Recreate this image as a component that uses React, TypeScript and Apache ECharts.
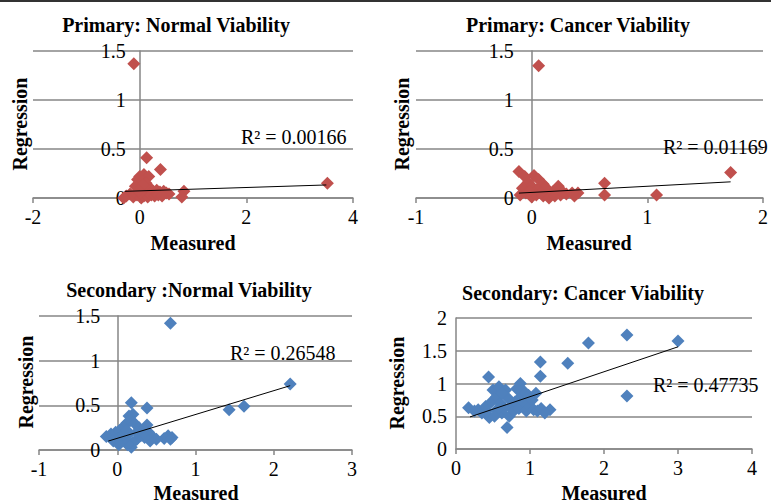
import React, { useEffect, useRef } from "react";
import * as echarts from "echarts";

// ---------- data ----------
const titles = [
  "Primary: Normal Viability",
  "Primary: Cancer Viability",
  "Secondary :Normal Viability",
  "Secondary: Cancer Viability",
];
const r2Labels = ["R\u00B2 = 0.00166", "R\u00B2 = 0.01169", "R\u00B2 = 0.26548", "R\u00B2 = 0.47735"];
const xAxisName = "Measured";
const yAxisName = "Regression";

const primaryNormal: number[][] = [
  [-0.11, 1.37], [0.13, 0.41], [0.39, 0.29], [3.52, 0.15], [0.83, 0.07], [0.79, 0.01],
  [0.0, 0.22], [0.08, 0.24], [0.17, 0.22], [-0.04, 0.19], [0.05, 0.17], [0.12, 0.15],
  [-0.08, 0.12], [0.02, 0.1], [0.1, 0.08], [0.2, 0.1], [0.25, 0.07], [0.32, 0.08],
  [0.38, 0.06], [0.45, 0.07], [0.5, 0.05], [0.55, 0.04], [-0.25, 0.02], [-0.18, 0.04],
  [-0.12, 0.01], [-0.05, 0.03], [0.03, 0.0], [0.08, 0.02], [0.15, 0.01], [0.22, 0.03],
  [0.28, 0.02], [0.35, 0.03], [0.42, 0.02], [-0.3, 0.0], [0.0, 0.05], [0.06, 0.13], [-0.02, 0.08],
];
const primaryCancer: number[][] = [
  [0.06, 1.35], [1.72, 0.26], [0.63, 0.15], [0.63, 0.03], [1.08, 0.03], [-0.11, 0.27],
  [-0.06, 0.22], [0.02, 0.23], [0.06, 0.19], [-0.03, 0.16], [0.1, 0.14], [0.0, 0.12],
  [-0.08, 0.1], [0.05, 0.09], [0.13, 0.08], [0.18, 0.06], [0.23, 0.12], [0.27, 0.06],
  [0.3, 0.04], [0.35, 0.05], [0.4, 0.05], [0.37, 0.02], [-0.1, 0.03], [-0.05, 0.05],
  [0.0, 0.01], [0.04, 0.03], [0.1, 0.02], [0.15, 0.0], [0.2, 0.02], [0.25, 0.03],
  [0.12, 0.11], [-0.02, 0.07], [0.08, 0.05],
];
const secondaryNormal: number[][] = [
  [0.68, 1.42], [2.21, 0.74], [1.62, 0.49], [1.43, 0.45], [0.18, 0.53], [0.38, 0.47],
  [0.65, 0.16], [0.6, 0.13], [0.7, 0.14], [0.68, 0.12], [-0.14, 0.15], [-0.08, 0.18],
  [-0.02, 0.2], [0.03, 0.22], [0.08, 0.26], [0.12, 0.3], [0.15, 0.38], [0.2, 0.4],
  [0.17, 0.33], [0.22, 0.3], [0.28, 0.25], [0.33, 0.22], [0.38, 0.28], [0.4, 0.2],
  [0.45, 0.15], [0.5, 0.12], [0.42, 0.1], [0.35, 0.14], [0.3, 0.16], [0.25, 0.12],
  [0.2, 0.08], [0.18, 0.03], [0.13, 0.06], [0.1, 0.12], [0.05, 0.1], [0.0, 0.13],
  [-0.05, 0.1], [0.02, 0.06], [0.15, 0.18], [0.08, 0.17], [0.25, 0.2], [0.12, 0.22],
];
const secondaryCancer: number[][] = [
  [3.0, 1.65], [2.31, 1.74], [2.31, 0.81], [1.79, 1.62], [1.51, 1.31], [1.14, 1.33],
  [1.14, 1.11], [0.44, 1.1], [0.69, 0.33], [1.27, 0.6], [0.17, 0.63], [0.87, 1.0],
  [0.3, 0.6], [0.35, 0.55], [0.4, 0.65], [0.45, 0.48], [0.48, 0.72], [0.5, 0.9],
  [0.55, 0.8], [0.58, 0.95], [0.6, 0.7], [0.62, 0.55], [0.65, 0.62], [0.67, 0.9],
  [0.7, 0.78], [0.72, 0.5], [0.75, 0.65], [0.78, 0.58], [0.8, 0.72], [0.85, 0.62],
  [0.88, 0.8], [0.9, 0.9], [0.93, 0.7], [0.95, 0.58], [0.98, 0.82], [1.0, 0.65],
  [1.03, 0.75], [1.05, 0.6], [1.08, 0.85], [1.1, 0.58], [1.15, 0.62], [1.2, 0.55],
  [0.25, 0.58], [0.55, 0.6], [0.62, 0.85], [0.82, 0.92], [0.42, 0.58], [0.52, 0.5],
];
const trendPrimaryNormal: number[][] = [[-0.28, 0.068], [3.5, 0.133]];
const trendPrimaryCancer: number[][] = [[-0.11, 0.05], [1.72, 0.165]];
const trendSecondaryNormal: number[][] = [[-0.115, 0.1], [2.21, 0.72]];
const trendSecondaryCancer: number[][] = [[0.19, 0.49], [3.0, 1.56]];

const xRanges = [[-2, 4, 2], [-1, 2, 1], [-1, 3, 1], [0, 4, 1]];
const yRanges = [[0, 1.5, 0.5], [0, 1.5, 0.5], [0, 1.5, 0.5], [0, 2, 0.5]];

const scatterSets = [primaryNormal, primaryCancer, secondaryNormal, secondaryCancer];
const trendSets = [trendPrimaryNormal, trendPrimaryCancer, trendSecondaryNormal, trendSecondaryCancer];

// ---------- layout / style ----------
const FONT = "'Liberation Serif', 'Times New Roman', serif";
const RED = "#C0504D";
const BLUE = "#4F81BD";
const GRID = "#868686";
const colors = [RED, RED, BLUE, BLUE];
const grids = [
  { left: 33, top: 51, width: 320, height: 147 },
  { left: 416, top: 51, width: 347, height: 147 },
  { left: 39, top: 316, width: 313, height: 134 },
  { left: 456, top: 318, width: 296, height: 131 },
];
const yLabelMargins = [14, 18, 17, 9];
const titlePos = [[176, 25], [578, 25], [189, 290], [583, 293]];
const xNamePos = [[193, 243], [589, 243], [196, 493], [604, 493]];
const yNamePos = [[20, 124], [402, 124], [26, 382], [397, 383]];
const r2Pos = [[241, 137], [663, 147], [230, 353], [653, 385]];

// vertical axis crosses the horizontal axis at x = 0 (Excel style)
const yAxisOffsets = xRanges.map((r, i) => -(grids[i].width * (0 - r[0])) / (r[1] - r[0]));

export default function App() {
  const ref = useRef<HTMLDivElement>(null);
  useEffect(() => {
    if (!ref.current) return;
    const chart = echarts.init(ref.current, undefined, { renderer: "svg" });
    const graphic: any[] = [
      { type: "rect", shape: { x: 0, y: 0, width: 771, height: 2 }, style: { fill: "#333" } },
    ];
    for (let i = 0; i < 4; i++) {
      graphic.push({
        type: "text", x: titlePos[i][0], y: titlePos[i][1],
        style: { text: titles[i], font: `bold 20px ${FONT}`, fill: "#000", textAlign: "center", textVerticalAlign: "middle" },
      });
      graphic.push({
        type: "text", x: xNamePos[i][0], y: xNamePos[i][1],
        style: { text: xAxisName, font: `bold 20px ${FONT}`, fill: "#000", textAlign: "center", textVerticalAlign: "middle" },
      });
      graphic.push({
        type: "text", x: yNamePos[i][0], y: yNamePos[i][1], rotation: Math.PI / 2,
        style: { text: yAxisName, font: `bold 20px ${FONT}`, fill: "#000", textAlign: "center", textVerticalAlign: "middle" },
      });
      graphic.push({
        type: "text", x: r2Pos[i][0], y: r2Pos[i][1], z: 100,
        style: { text: r2Labels[i], font: `20px ${FONT}`, fill: "#000", textAlign: "left", textVerticalAlign: "middle" },
      });
    }
    const option: any = {
      animation: false,
      backgroundColor: "#fff",
      grid: grids.map((g) => ({ ...g, containLabel: false })),
      xAxis: xRanges.map((r, i) => ({
        type: "value", gridIndex: i, min: r[0], max: r[1], interval: r[2],
        axisLine: { show: true, onZero: false, lineStyle: { color: GRID, width: 1.5 } },
        axisTick: { show: true, length: 5, lineStyle: { color: GRID, width: 1.5 } },
        splitLine: { show: false },
        axisLabel: { color: "#000", fontFamily: FONT, fontSize: 20, margin: 9 },
      })),
      yAxis: yRanges.map((r, i) => ({
        type: "value", gridIndex: i, min: r[0], max: r[1], interval: r[2],
        position: "left", offset: yAxisOffsets[i],
        axisLine: { show: true, onZero: false, lineStyle: { color: GRID, width: 1.5 } },
        axisTick: { show: false },
        splitLine: { show: true, lineStyle: { color: GRID, width: 1.5 } },
        axisLabel: { color: "#000", fontFamily: FONT, fontSize: 20, margin: yLabelMargins[i] },
      })),
      series: [
        ...scatterSets.map((d, i) => ({
          type: "scatter", xAxisIndex: i, yAxisIndex: i, data: d,
          symbol: "diamond", symbolSize: 13, clip: false,
          itemStyle: { color: colors[i], opacity: 1 }, z: 2,
        })),
        ...trendSets.map((d, i) => ({
          type: "line", xAxisIndex: i, yAxisIndex: i, data: d,
          symbol: "none", lineStyle: { color: "#000", width: 1 }, z: 5, silent: true,
        })),
      ],
      graphic,
    };
    chart.setOption(option);
    return () => chart.dispose();
  }, []);
  return (
    <div
      ref={ref}
      style={{ position: "fixed", left: 0, top: 0, width: 771, height: 503, background: "#fff" }}
    />
  );
}
